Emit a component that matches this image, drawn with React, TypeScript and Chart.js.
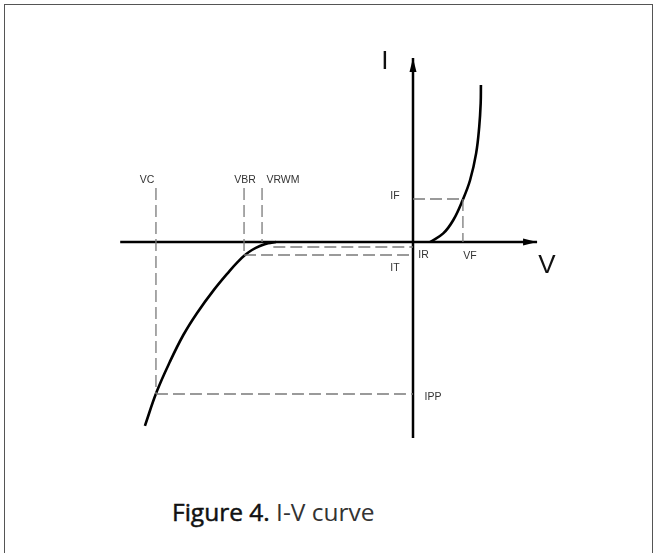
import React, { useEffect, useRef } from "react";
import { Chart, registerables } from "chart.js";

Chart.register(...registerables);

// Forward-bias branch (V, I) in arbitrary units
const forwardV = [0.71, 1.26, 1.68, 2.07, 2.38, 2.63, 2.76, 2.82, 2.83];
const forwardI = [0, 0.43, 1.1, 2.1, 3.1, 4.43, 5.77, 6.93, 7.85];
// Reverse-bias branch
const reverseV = [-11.17, -10.68, -10.13, -9.57, -9.01, -8.32, -7.63, -7.29, -7.0, -6.71, -6.38, -6.04, -5.71];
const reverseI = [-9.19, -7.49, -5.99, -4.65, -3.57, -2.43, -1.43, -0.98, -0.65, -0.4, -0.2, -0.065, 0];

// Characteristic values
const VC = -10.71;
const VBR = -7.04;
const VRWM = -6.29;
const VF = 2.08;
const IPP = -7.6;
const IT = -0.65;
const IR = -0.25;
const IF = 2.15;
const MARK_TOP = 2.7;

// Axes extents
const vAxis = [-12.2, 5.17];
const iAxis = [-9.8, 9.2];

// Annotation labels
const labelText = ["VC", "VBR", "VRWM", "IF", "IR", "IT", "VF", "IPP"];
const labelV = [-11.08, -7.0, -5.42, -0.75, 0.44, -0.75, 2.37, 0.83];
const labelI = [3.1, 3.1, 3.1, 2.3, -0.65, -1.3, -0.7, -7.75];
const axisTitles = ["I", "V"];
const axisTitleV = [-1.17, 5.58];
const axisTitleI = [9.0, -1.2];

const pts = (xs: number[], ys: number[]) => xs.map((x, i) => ({ x, y: ys[i] }));

const dashStyle = {
  borderColor: "#7a7a7a",
  borderWidth: 1.3,
  borderDash: [12, 5],
};

const annotPlugin = {
  id: "annot",
  afterDatasetsDraw(chart: any) {
    const { ctx, scales } = chart;
    const xs = scales.x;
    const ys = scales.y;
    ctx.save();
    // arrowheads
    ctx.fillStyle = "#000";
    const tx = xs.getPixelForValue(vAxis[1]);
    const ty = ys.getPixelForValue(0);
    ctx.beginPath();
    ctx.moveTo(tx, ty);
    ctx.lineTo(tx - 14, ty - 3.5);
    ctx.lineTo(tx - 14, ty + 3.5);
    ctx.closePath();
    ctx.fill();
    const ux = xs.getPixelForValue(0);
    const uy = ys.getPixelForValue(iAxis[1]);
    ctx.beginPath();
    ctx.moveTo(ux, uy);
    ctx.lineTo(ux - 3.5, uy + 14);
    ctx.lineTo(ux + 3.5, uy + 14);
    ctx.closePath();
    ctx.fill();
    // small labels
    ctx.fillStyle = "#333";
    ctx.font = "10.5px 'Liberation Sans', Arial, sans-serif";
    ctx.textAlign = "center";
    ctx.textBaseline = "middle";
    labelText.forEach((t, i) => {
      ctx.fillText(t, xs.getPixelForValue(labelV[i]), ys.getPixelForValue(labelI[i]));
    });
    // axis titles
    ctx.fillStyle = "#111";
    ctx.font = "26px 'Liberation Sans', Arial, sans-serif";
    axisTitles.forEach((t, i) => {
      ctx.fillText(t, xs.getPixelForValue(axisTitleV[i]), ys.getPixelForValue(axisTitleI[i]));
    });
    ctx.restore();
  },
};

export default function App() {
  const ref = useRef<HTMLCanvasElement>(null);
  useEffect(() => {
    if (!ref.current) return;
    const lineDs = (data: any[], extra: any) => ({
      data,
      showLine: true,
      pointRadius: 0,
      fill: false,
      ...extra,
    });
    const chart = new Chart(ref.current, {
      type: "scatter",
      data: {
        datasets: [
          lineDs(pts([VC, VC], [MARK_TOP, IPP]), dashStyle),
          lineDs(pts([VC, 0], [IPP, IPP]), dashStyle),
          lineDs(pts([VBR, VBR], [MARK_TOP, IT]), dashStyle),
          lineDs(pts([VBR, 0], [IT, IT]), dashStyle),
          lineDs(pts([VRWM, VRWM], [MARK_TOP, 0]), dashStyle),
          lineDs(pts([-5.82, 0], [IR, IR]), dashStyle),
          lineDs(pts([0, VF], [IF, IF]), dashStyle),
          lineDs(pts([VF, VF], [IF, 0]), dashStyle),
          lineDs(pts(vAxis, [0, 0]), { borderColor: "#000", borderWidth: 2.5 }),
          lineDs(pts([0, 0], iAxis), { borderColor: "#000", borderWidth: 2.5 }),
          lineDs(pts(forwardV, forwardI), {
            borderColor: "#000",
            borderWidth: 2.6,
            tension: 0.4,
          }),
          lineDs(pts(reverseV, reverseI), {
            borderColor: "#000",
            borderWidth: 2.6,
            tension: 0.4,
          }),
        ],
      },
      options: {
        responsive: false,
        maintainAspectRatio: false,
        animation: false,
        layout: { padding: 0 },
        scales: {
          x: { type: "linear", min: -13, max: 7, display: false },
          y: { type: "linear", min: -10.8, max: 10.2, display: false },
        },
        plugins: {
          legend: { display: false },
          tooltip: { enabled: false },
        },
        elements: { line: { borderCapStyle: "butt" } },
      } as any,
      plugins: [annotPlugin],
    });
    return () => chart.destroy();
  }, []);

  return (
    <div style={{ position: "absolute", left: 0, top: 0, width: 656, height: 553, overflow: "hidden", background: "#fff" }}>
      <div
        style={{
          position: "absolute",
          left: 4,
          top: 4,
          width: 649,
          height: 600,
          border: "1.5px solid #555",
          boxSizing: "border-box",
        }}
      />
      <canvas
        ref={ref}
        width={480}
        height={420}
        style={{ position: "absolute", left: 101, top: 38, width: 480, height: 420 }}
      />
      <div
        style={{
          position: "absolute",
          left: 172,
          top: 495,
          fontFamily: "'Open Sans', 'Noto Sans', sans-serif",
          fontSize: 24.5,
          color: "#333",
          whiteSpace: "nowrap",
        }}
      >
        <span style={{ fontWeight: 400, color: "#111", WebkitTextStroke: "0.5px #111" }}>Figure 4.</span> I-V curve
      </div>
    </div>
  );
}
